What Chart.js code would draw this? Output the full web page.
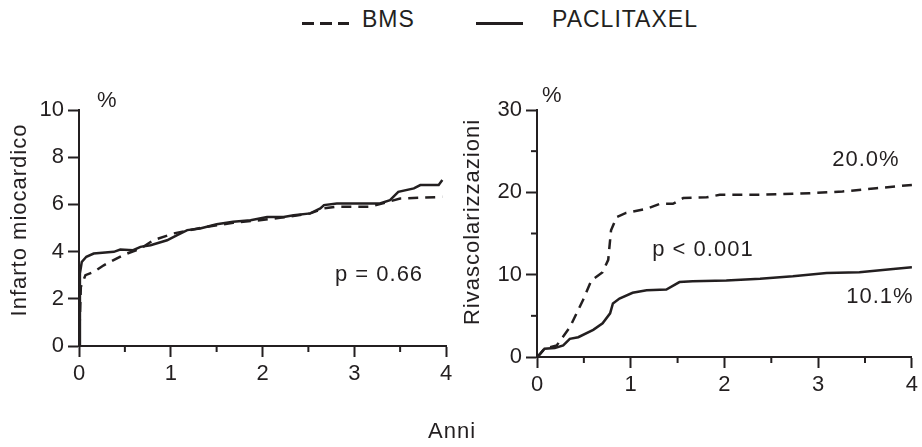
<!DOCTYPE html>
<html lang="it">
<head>
<meta charset="UTF-8">
<title>Infarto miocardico e rivascolarizzazioni</title>
<script src="https://cdn.jsdelivr.net/npm/chart.js"></script>
<style>
    body {
        margin: 0;
        width: 922px;
        height: 447px;
        position: relative;
        background: #fff;
        font-family: "Liberation Sans", Arial, sans-serif;
        color: #231f20;
        overflow: hidden;
    }
    canvas { position: absolute; top: 0; }
    #left { left: 0; }
    #right { left: 461px; }
    .leg-text {
        position: absolute;
        font-size: 23px;
        line-height: 23px;
        top: 8px;
    }
    .leg-line {
        position: absolute;
        top: 22px;
        height: 3px;
        width: 47px;
    }
    #anni {
        position: absolute;
        font-size: 22px;
        line-height: 22px;
        top: 420px;
        left: 428px;
        letter-spacing: 1px;
    }
</style>
</head>
<body>
    <!-- legenda comune -->
    <div class="leg-line" style="left:302px; background: repeating-linear-gradient(to right, #231f20 0 12px, transparent 12px 18px);"></div>
    <div class="leg-text" style="left:362px; letter-spacing:1px;">BMS</div>
    <div class="leg-line" style="left:476px; background:#231f20;"></div>
    <div class="leg-text" style="left:552px; letter-spacing:1px;">PACLITAXEL</div>

    <canvas id="left" width="461" height="447"></canvas>
    <canvas id="right" width="461" height="447"></canvas>

    <div id="anni">Anni</div>

<script>
    const INK = '#231f20';
    const FONT = '"Liberation Sans", Arial, sans-serif';

    // Infarto miocardico (%)
    const miPacYears = [0, 0.01, 0.03, 0.08, 0.16, 0.38, 0.45, 0.59, 0.67, 0.78, 0.96, 1.07, 1.18, 1.32, 1.5, 1.68, 1.87, 2.05, 2.23, 2.34, 2.52, 2.63, 2.67, 2.81, 3.28, 3.39, 3.48, 3.65, 3.72, 3.92, 3.96];
    const miPacPct   = [0, 3.07, 3.56, 3.78, 3.92, 3.99, 4.09, 4.06, 4.2, 4.27, 4.48, 4.7, 4.91, 4.98, 5.16, 5.26, 5.33, 5.47, 5.47, 5.54, 5.62, 5.83, 5.97, 6.04, 6.04, 6.18, 6.53, 6.68, 6.82, 6.82, 7.03];
    const miBmsYears = [0, 0.02, 0.07, 0.16, 0.27, 0.48, 0.67, 0.81, 1.03, 1.21, 1.39, 1.68, 1.97, 2.23, 2.52, 2.67, 2.81, 3.17, 3.28, 3.5, 3.96];
    const miBmsPct   = [0, 2.5, 3.0, 3.14, 3.42, 3.85, 4.13, 4.48, 4.77, 4.91, 5.05, 5.22, 5.33, 5.45, 5.62, 5.83, 5.9, 5.9, 6.01, 6.25, 6.32];

    // Rivascolarizzazioni (%)
    const rvPacYears = [0, 0.02, 0.08, 0.19, 0.28, 0.35, 0.44, 0.6, 0.7, 0.78, 0.81, 0.88, 1.02, 1.17, 1.38, 1.52, 1.66, 2.02, 2.38, 2.73, 3.09, 3.44, 3.8, 4.0];
    const rvPacPct   = [0, 0.2, 1.0, 1.1, 1.4, 2.2, 2.4, 3.3, 4.1, 5.3, 6.5, 7.1, 7.8, 8.1, 8.2, 9.1, 9.2, 9.3, 9.5, 9.8, 10.2, 10.3, 10.7, 10.9];
    const rvBmsYears = [0, 0.02, 0.08, 0.21, 0.35, 0.49, 0.58, 0.7, 0.76, 0.79, 0.85, 0.95, 1.17, 1.31, 1.45, 1.56, 1.81, 1.95, 2.38, 2.91, 3.26, 3.62, 4.0];
    const rvBmsPct   = [0, 0.2, 1.0, 1.4, 3.6, 6.9, 9.3, 10.3, 11.8, 15.4, 17.0, 17.5, 18.0, 18.6, 18.6, 19.3, 19.4, 19.7, 19.7, 19.9, 20.1, 20.5, 20.9];

    const xMinorTicks = [0.5, 1.5, 2.5, 3.5];
    const rvMinorTicks = [5, 15, 25];

    function pts(xs, ys) {
        return xs.map((x, i) => ({x: x, y: ys[i]}));
    }

    // tacche secondarie, titoli e note
    const extras = {
        id: 'extras',
        afterDraw(chart, args, opts) {
            const {ctx, chartArea: a, scales: {x, y}} = chart;
            ctx.save();
            ctx.strokeStyle = INK;
            ctx.lineWidth = 2;
            (opts.minorX || []).forEach(v => {
                const px = x.getPixelForValue(v);
                ctx.beginPath(); ctx.moveTo(px, a.bottom); ctx.lineTo(px, a.bottom + 6); ctx.stroke();
            });
            (opts.minorY || []).forEach(v => {
                const py = y.getPixelForValue(v);
                ctx.beginPath(); ctx.moveTo(a.left, py); ctx.lineTo(a.left - 6, py); ctx.stroke();
            });
            ctx.fillStyle = INK;
            ctx.font = '22px ' + FONT;
            ctx.letterSpacing = '1px';
            ctx.textBaseline = 'middle';
            ctx.textAlign = 'left';
            (opts.notes || []).forEach(n => {
                ctx.fillText(n.text, x.getPixelForValue(n.x), y.getPixelForValue(n.y));
            });
            ctx.fillText('%', opts.pct[0], opts.pct[1]);
            ctx.translate(opts.title.x, opts.title.y);
            ctx.rotate(-Math.PI / 2);
            ctx.textAlign = 'center';
            ctx.fillText(opts.title.text, 0, 0);
            ctx.restore();
        }
    };

    function makeChart(id, pac, bms, yMax, yStep, yWidth, pad, xHeight, extraOpts) {
        const axisCommon = {
            type: 'linear',
            border: {display: true, color: INK, width: 2},
            grid: {drawOnChartArea: false, drawTicks: true, tickLength: 11, tickColor: INK, tickWidth: 2}
        };
        return new Chart(document.getElementById(id), {
            type: 'line',
            data: {
                datasets: [{
                    label: 'PACLITAXEL',
                    data: pac,
                    borderColor: INK,
                    borderWidth: 2.5,
                    pointRadius: 0,
                    tension: 0
                }, {
                    label: 'BMS',
                    data: bms,
                    borderColor: INK,
                    borderWidth: 2.5,
                    borderDash: [10, 7],
                    pointRadius: 0,
                    tension: 0
                }]
            },
            options: {
                responsive: false,
                animation: false,
                devicePixelRatio: 1,
                layout: {padding: pad},
                plugins: {
                    legend: {display: false},
                    tooltip: {enabled: false},
                    extras: extraOpts
                },
                scales: {
                    x: Object.assign({}, axisCommon, {
                        min: 0, max: 4,
                        ticks: {stepSize: 1, padding: 4, color: INK, font: {family: FONT, size: 22}},
                        afterFit: s => { s.height = xHeight; }
                    }),
                    y: Object.assign({}, axisCommon, {
                        min: 0, max: yMax,
                        ticks: {stepSize: yStep, padding: 4, color: INK, font: {family: FONT, size: 22}},
                        afterFit: s => { s.width = yWidth; }
                    })
                }
            },
            plugins: [extras]
        });
    }

    makeChart('left', pts(miPacYears, miPacPct), pts(miBmsYears, miBmsPct), 10, 2, 79,
        {left: 0, right: 15, top: 110, bottom: 41}, 60, {
            minorX: xMinorTicks,
            notes: [{text: 'p = 0.66', x: 2.79, y: 3.0}],
            pct: [97, 101],
            title: {text: 'Infarto miocardico', x: 20, y: 220}
        });

    makeChart('right', pts(rvPacYears, rvPacPct), pts(rvBmsYears, rvBmsPct), 30, 10, 76,
        {left: 0, right: 10, top: 110, bottom: 40}, 50, {
            minorX: xMinorTicks,
            minorY: rvMinorTicks,
            notes: [
                {text: '20.0%', x: 3.15, y: 23.9},
                {text: 'p < 0.001', x: 1.23, y: 13.0},
                {text: '10.1%', x: 3.3, y: 7.3}
            ],
            pct: [81, 96],
            title: {text: 'Rivascolarizzazioni', x: 12, y: 222}
        });
</script>
</body>
</html>
